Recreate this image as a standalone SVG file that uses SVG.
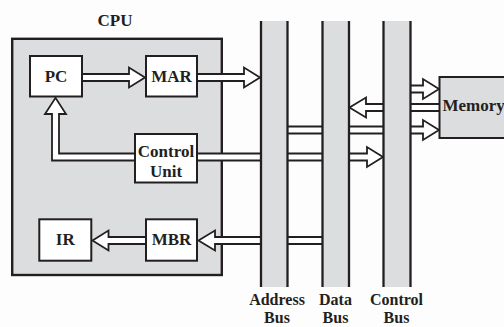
<svg xmlns="http://www.w3.org/2000/svg" width="504" height="327" viewBox="0 0 504 327">
<style>
.t{font-family:"Liberation Serif","Times New Roman",serif;font-weight:bold;font-size:17px;fill:#231f20;text-anchor:middle}
.bl{font-size:16px}
.box{fill:#ffffff;stroke:#231f20;stroke-width:2}
.gray{fill:#dcdddf}
.edge{stroke:#231f20;stroke-width:2.3}
.arr{fill:#ffffff;stroke:#231f20;stroke-width:1.8;stroke-linejoin:miter}
</style>
<rect x="0" y="0" width="504" height="327" fill="#fdfdfd"/>
<g id="cpu">
<rect x="12.2" y="38.8" width="209.6" height="236.2" fill="#dcdddf" stroke="#231f20" stroke-width="2.4"/>
<text class="t" x="115" y="25.5">CPU</text>
</g>
<g id="connectors">
<path class="arr" d="M82,74 H129 V67.5 L145,77.5 L129,87.5 V81 H82"/>
<path class="arr" d="M197,74 H244 V67.5 L260,77.5 L244,87.5 V81 H197"/>
<path class="arr" d="M135,153.5 H59 V114 H66 L55.5,97.8 L45,114 H52 V160.5 H135"/>
<path class="arr" d="M197,153.5 H367 V147 L383,157 L367,167 V160.5 H197"/>
<path class="arr" d="M323,237 H215 V230.5 L198.5,240.5 L215,250.5 V244 H323"/>
<path class="arr" d="M146,237 H108.5 V230.5 L92.5,240.5 L108.5,250.5 V244 H146"/>
<path class="arr" d="M410,85.5 H423 V79 L439,89 L423,99 V92.5 H410"/>
<path class="arr" d="M440,104 H366 V97.5 L349.5,107.5 L366,117.5 V111 H440"/>
<path class="arr" d="M287,126.5 H423 V120 L439,130 L423,140 V133.5 H287"/>
</g>
<g id="address-bus">
<rect class="gray" x="261" y="21" width="26.5" height="266"/>
<line class="edge" x1="261" y1="21" x2="261" y2="287"/>
<line class="edge" x1="287.5" y1="21" x2="287.5" y2="287"/>
<text class="t bl" x="277" y="305">Address</text>
<text class="t bl" x="277" y="323">Bus</text>
</g>
<g id="data-bus">
<rect class="gray" x="322.5" y="21" width="26.5" height="266"/>
<line class="edge" x1="322.5" y1="21" x2="322.5" y2="287"/>
<line class="edge" x1="349" y1="21" x2="349" y2="287"/>
<text class="t bl" x="335.5" y="305">Data</text>
<text class="t bl" x="335.5" y="323">Bus</text>
</g>
<g id="control-bus">
<rect class="gray" x="383.5" y="21" width="27" height="266"/>
<line class="edge" x1="383.5" y1="21" x2="383.5" y2="287"/>
<line class="edge" x1="410.5" y1="21" x2="410.5" y2="287"/>
<text class="t bl" x="396.5" y="305">Control</text>
<text class="t bl" x="396.5" y="323">Bus</text>
</g>
<g id="pc">
<rect class="box" x="30" y="56" width="52" height="40.5"/>
<text class="t" x="56" y="82">PC</text>
</g>
<g id="mar">
<rect class="box" x="146" y="56" width="51" height="40.5"/>
<text class="t" x="171.5" y="82">MAR</text>
</g>
<g id="control-unit">
<rect class="box" x="135" y="134" width="62" height="48.5"/>
<text class="t" x="166" y="157">Control</text>
<text class="t" x="166" y="177">Unit</text>
</g>
<g id="ir">
<rect class="box" x="39.3" y="219.3" width="52" height="41.4"/>
<text class="t" x="65.3" y="245">IR</text>
</g>
<g id="mbr">
<rect class="box" x="146" y="219.3" width="51" height="41.4"/>
<text class="t" x="171.5" y="245">MBR</text>
</g>
<g id="memory">
<rect x="439.5" y="77" width="70" height="61" fill="#dcdddf" stroke="#231f20" stroke-width="2"/>
<text class="t" x="442.5" y="111" style="text-anchor:start">Memory</text>
</g>
</svg>
